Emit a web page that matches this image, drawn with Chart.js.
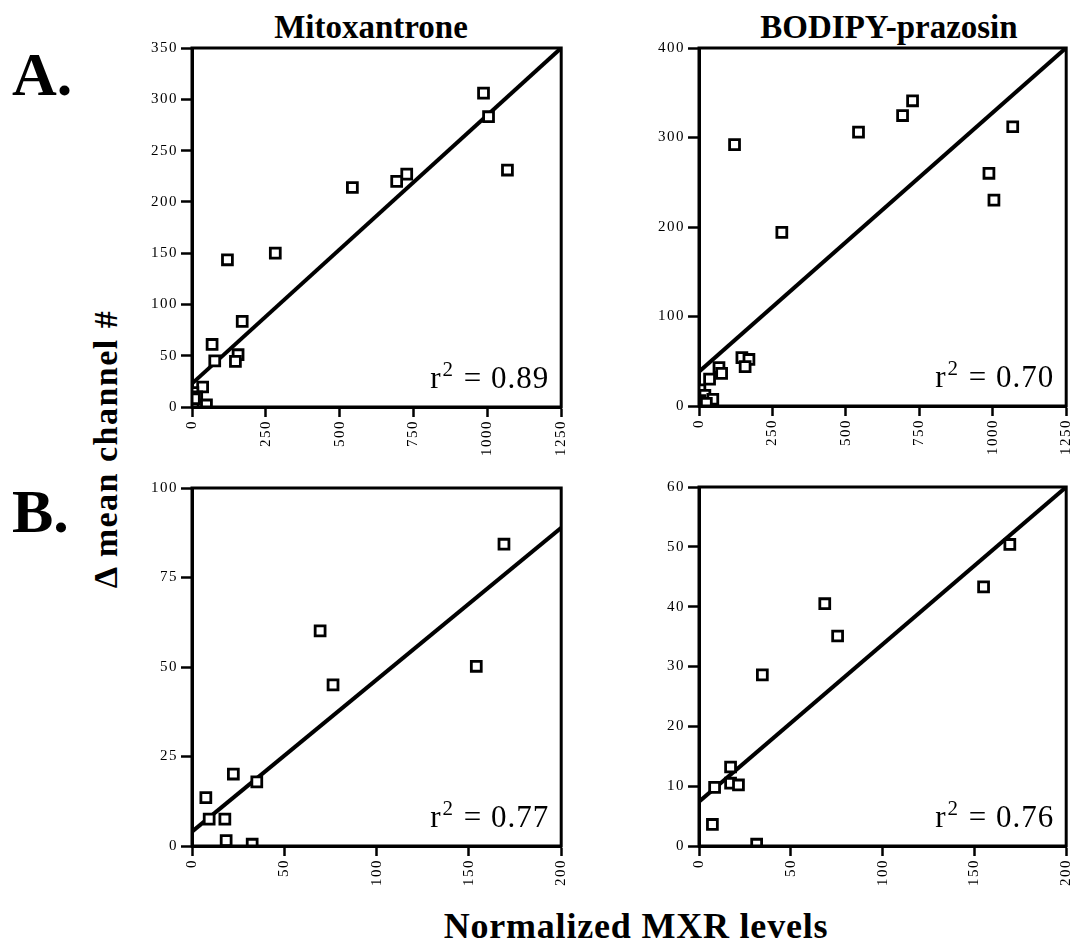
<!DOCTYPE html>
<html>
<head>
<meta charset="utf-8">
<script src="https://cdn.jsdelivr.net/npm/chart.js@4.4.0/dist/chart.umd.min.js"></script>
<style>
  body { margin:0; background:#fff; }
  #page { position:relative; width:1076px; height:944px; overflow:hidden; font-family:"Liberation Serif","Times New Roman",serif; color:#000; }
  .txt { position:absolute; white-space:nowrap; line-height:1; font-weight:bold; }
  canvas { position:absolute; }
</style>
</head>
<body>
<div id="page">
  <div class="txt" style="left:171px;width:400px;text-align:center;top:11px;font-size:33px;">Mitoxantrone</div>
  <div class="txt" style="left:689px;width:400px;text-align:center;top:11px;font-size:33px;">BODIPY-prazosin</div>
  <div class="txt" style="left:12px;top:43px;font-size:62px;">A.</div>
  <div class="txt" style="left:12px;top:480px;font-size:62px;">B.</div>
  <div class="txt" style="left:-94px;width:400px;text-align:center;top:432px;font-size:34px;letter-spacing:1.5px;transform:rotate(-90deg);">&Delta; mean channel #</div>
  <div class="txt" style="left:336px;width:600px;text-align:center;top:908px;font-size:36px;letter-spacing:0.8px;">Normalized MXR levels</div>
  <canvas id="cA1"></canvas>
  <canvas id="cA2"></canvas>
  <canvas id="cB1"></canvas>
  <canvas id="cB2"></canvas>
</div>
<script>
// A. Mitoxantrone, full MXR range
const mitoA_x = [987, 1004, 1068, 727, 693, 543, 282, 120, 170, 68, 77, 156, 147, 36, 3, 16, 49, 4, 8];
const mitoA_y = [306, 283, 231, 227, 220, 214, 150, 143.5, 83.5, 61, 45, 51, 44.5, 19.5, 14, 10, 2, 1, 8];
// A. BODIPY-prazosin, full MXR range
const bodA_x = [121, 543, 693, 727, 1068, 987, 1004, 282, 146, 170, 157, 68, 77, 36, 3, 20, 47, 3, 25];
const bodA_y = [292, 306, 324.5, 341, 312, 260, 230, 194, 54, 52, 44, 43, 36.5, 30, 18, 12, 7.5, 6, 3];
// B. low MXR range
const mitoB_x = [7.5, 9.3, 17.8, 18.5, 22.4, 32.6, 35.1, 69.4, 76.4, 154, 169];
const mitoB_y = [13.5, 7.5, 7.5, 1.5, 20.1, 0.5, 17.9, 60.1, 45, 50.2, 84.3];
const bodB_x = [7.3, 8.5, 17.2, 17.2, 21.5, 31.4, 34.5, 68.5, 75.5, 155, 169.3];
const bodB_y = [3.6, 9.8, 13.2, 10.5, 10.2, 0.3, 28.6, 40.5, 35.1, 43.3, 50.4];

// regression lines (as drawn) and r2 values
const fitIntercepts = [22.8, 38.3, 4.0, 7.4];
const fitSlopes = [0.2618, 0.2896, 0.4245, 0.263];
const r2Labels = ['0.89', '0.70', '0.77', '0.76'];

// axis ranges / ticks
const xMaxes = [1250, 1250, 200, 200];
const xTickSteps = [250, 250, 50, 50];
const yMaxes = [350, 400, 100, 60];
const yTickSteps = [50, 100, 25, 10];

const SERIF = '"Liberation Serif", "Times New Roman", serif';
const panels = [
  {id:'cA1', L:192, T:48, R:563, B:407},
  {id:'cA2', L:699, T:48, R:1068, B:406},
  {id:'cB1', L:192, T:488, R:563, B:846},
  {id:'cB2', L:699, T:487, R:1068, B:846},
];
const YW = 60, PT = 10, PR = 8, XH = 52;

function makePanel(i, xs, ys) {
  const p = panels[i];
  const cv = document.getElementById(p.id);
  cv.width = (p.R - p.L) + YW + PR;
  cv.height = (p.B - p.T) + PT + XH;
  cv.style.left = (p.L - YW) + 'px';
  cv.style.top = (p.T - PT) + 'px';

  const pts = xs.map((x, k) => ({x: x, y: ys[k]}));
  const xEnd = xMaxes[i];
  const fit = [{x: 0, y: fitIntercepts[i]}, {x: xEnd, y: fitIntercepts[i] + fitSlopes[i] * xEnd}];

  const panelPlugin = {
    id: 'panelDeco',
    beforeDraw(chart) { chart.ctx.letterSpacing = '1.5px'; },
    afterDraw(chart) {
      const ctx = chart.ctx, a = chart.chartArea;
      ctx.save();
      ctx.letterSpacing = '0px';
      ctx.strokeStyle = '#000'; ctx.lineWidth = 3;
      ctx.strokeRect(a.left, a.top, a.right - a.left, a.bottom - a.top);
      // r^2 label
      const main = ' = ' + r2Labels[i];
      ctx.fillStyle = '#000';
      ctx.textBaseline = 'alphabetic';
      ctx.font = '31px ' + SERIF;
      ctx.letterSpacing = '1px';
      const wMain = ctx.measureText(main).width;
      const wR = ctx.measureText('r').width;
      ctx.font = '21px ' + SERIF;
      const wSup = ctx.measureText('2').width;
      const xr = a.right - 12, yb = a.bottom - 19;
      let x0 = xr - wMain - wSup - wR - 2;
      ctx.font = '31px ' + SERIF;
      ctx.fillText('r', x0, yb);
      ctx.font = '21px ' + SERIF;
      ctx.fillText('2', x0 + wR + 1, yb - 12);
      ctx.font = '31px ' + SERIF;
      ctx.fillText(main, x0 + wR + wSup + 2, yb);
      ctx.restore();
    }
  };

  new Chart(cv, {
    type: 'scatter',
    data: {datasets: [
      {data: pts, pointStyle: 'rect', pointRadius: 7, pointHoverRadius: 7, pointBorderWidth: 2.8, borderColor: '#000', backgroundColor: '#fff'},
      {type: 'line', data: fit, borderColor: '#000', borderWidth: 4, pointRadius: 0, pointHoverRadius: 0, fill: false}
    ]},
    options: {
      responsive: false, animation: false, devicePixelRatio: 1,
      layout: {padding: {top: PT, right: PR, left: 0, bottom: 0}},
      plugins: {legend: {display: false}, tooltip: {enabled: false}},
      events: [],
      scales: {
        x: {
          type: 'linear', min: 0, max: xEnd,
          ticks: {stepSize: xTickSteps[i], minRotation: 90, maxRotation: 90, padding: 3, color: '#000', font: {family: SERIF, size: 15},
                  callback: v => String(v)},
          grid: {drawOnChartArea: false, tickLength: 10, tickWidth: 2.5, tickColor: '#000'},
          border: {color: '#000', width: 3},
          afterFit: s => { s.height = XH; s.paddingLeft = 0; s.paddingRight = 0; }
        },
        y: {
          type: 'linear', min: 0, max: yMaxes[i],
          ticks: {stepSize: yTickSteps[i], padding: 3, color: '#000', font: {family: SERIF, size: 15},
                  callback: v => String(v)},
          grid: {drawOnChartArea: false, tickLength: 11, tickWidth: 2.5, tickColor: '#000'},
          border: {color: '#000', width: 3},
          afterFit: s => { s.width = YW; s.paddingTop = 0; s.paddingBottom = 0; }
        }
      }
    },
    plugins: [panelPlugin]
  });
}

makePanel(0, mitoA_x, mitoA_y);
makePanel(1, bodA_x, bodA_y);
makePanel(2, mitoB_x, mitoB_y);
makePanel(3, bodB_x, bodB_y);
</script>
</body>
</html>
